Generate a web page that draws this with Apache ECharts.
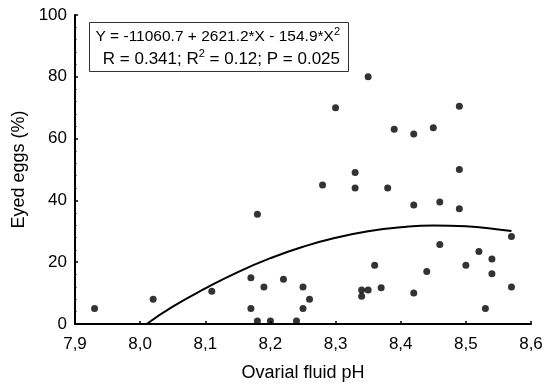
<!DOCTYPE html>
<html>
<head>
<meta charset="utf-8">
<script src="https://cdn.jsdelivr.net/npm/echarts@6/dist/echarts.min.js"></script>
<style>
html,body{margin:0;padding:0;background:#fff;}
#chart{width:548px;height:387px;}
</style>
</head>
<body>
<div id="chart"></div>
<script>
// Observed points: ovarial fluid pH vs eyed eggs (%)
const phValues = [7.93, 8.02, 8.11, 8.17, 8.17, 8.18, 8.18, 8.19, 8.20, 8.22,
  8.24, 8.25, 8.25, 8.26, 8.28, 8.30, 8.33, 8.33, 8.34, 8.34,
  8.35, 8.35, 8.36, 8.37, 8.38, 8.39, 8.42, 8.42, 8.42, 8.44,
  8.45, 8.46, 8.46, 8.49, 8.49, 8.49, 8.50, 8.52, 8.53, 8.54,
  8.54, 8.57, 8.57];
const eyedEggs = [5, 8, 10.6, 15, 5, 35.5, 1, 12, 1, 14.5,
  1, 12, 5, 8, 45, 70, 49, 44, 11, 9,
  11, 80, 19, 11.7, 44, 63, 61.5, 38.5, 10, 17,
  63.5, 39.5, 25.7, 70.5, 50, 37.3, 19, 23.5, 5, 21,
  16.3, 28.3, 12];

// Fitted curve
const curvePh   = [8.01, 8.05, 8.10, 8.15, 8.20, 8.25, 8.30, 8.35, 8.40, 8.45, 8.50, 8.55, 8.57];
const curveEggs = [0, 5.6, 11.5, 16.8, 21.3, 25.0, 27.9, 30.0, 31.3, 31.9, 31.6, 30.6, 30.1];

const xTickValues = [7.9, 8.0, 8.1, 8.2, 8.3, 8.4, 8.5, 8.6];
const xTickLabels = ['7,9', '8,0', '8,1', '8,2', '8,3', '8,4', '8,5', '8,6'];
const yTickLabels = ['0', '20', '40', '60', '80', '100'];

const scatterData = phValues.map((x, i) => [x, eyedEggs[i]]);
const curveData = curvePh.map((x, i) => [x, curveEggs[i]]);

const FONT = '"Liberation Sans", Arial, sans-serif';

const chart = echarts.init(document.getElementById('chart'), null, {renderer: 'canvas'});
chart.setOption({
  animation: false,
  backgroundColor: '#ffffff',
  grid: {left: 75, right: 17, top: 15, bottom: 63, containLabel: false},
  xAxis: {
    type: 'value', min: 7.9, max: 8.6, interval: 0.1,
    name: 'Ovarial fluid pH', nameLocation: 'middle', nameGap: 40,
    nameTextStyle: {color: '#000', fontSize: 18, fontFamily: FONT},
    axisLine: {show: true, lineStyle: {color: '#000', width: 2}},
    axisTick: {show: true, inside: true, length: 3, lineStyle: {color: '#000', width: 1.5}},
    axisLabel: {color: '#000', fontSize: 17, fontFamily: FONT, margin: 12,
      formatter: function (v) {
        for (let i = 0; i < xTickValues.length; i++) {
          if (Math.abs(v - xTickValues[i]) < 1e-6) return xTickLabels[i];
        }
        return '';
      }},
    splitLine: {show: false}
  },
  yAxis: {
    type: 'value', min: 0, max: 100, interval: 20,
    name: 'Eyed eggs (%)', nameLocation: 'middle', nameGap: 44,
    nameTextStyle: {color: '#000', fontSize: 18, fontFamily: FONT},
    axisLine: {show: true, lineStyle: {color: '#000', width: 2}},
    axisTick: {show: true, inside: true, length: 3, lineStyle: {color: '#000', width: 1.5}},
    minorTick: {show: true, splitNumber: 5, length: 1.5, lineStyle: {color: '#000', width: 1}},
    axisLabel: {color: '#000', fontSize: 17, fontFamily: FONT, margin: 8,
      formatter: function (v) { return yTickLabels[Math.round(v / 20)] || ''; }},
    splitLine: {show: false}
  },
  graphic: [{
    type: 'group',
    children: [{
      type: 'rect',
      shape: {x: 89.5, y: 22.5, width: 259, height: 49},
      style: {fill: '#fff', stroke: '#333', lineWidth: 1}
    }, {
      type: 'text',
      style: {
        x: 340, y: 26, align: 'right', verticalAlign: 'top',
        text: '{a|Y = -11060.7 + 2621.2*X - 154.9*X}{s|2}\n{n|R = 0.341; R}{s|2}{n| = 0.12; P = 0.025}',
        rich: {
          a: {fontSize: 15.5, fontFamily: FONT, fill: '#000', lineHeight: 22},
          n: {fontSize: 17, fontFamily: FONT, fill: '#000', lineHeight: 22},
          s: {fontSize: 11, fontFamily: FONT, fill: '#000', lineHeight: 12, verticalAlign: 'top'}
        }
      }
    }]
  }],
  series: [{
    type: 'line',
    data: curveData,
    smooth: true,
    showSymbol: false,
    lineStyle: {color: '#000', width: 2},
    z: 2
  }, {
    type: 'scatter',
    data: scatterData,
    symbol: 'circle',
    symbolSize: 7,
    itemStyle: {color: '#000'},
    z: 3
  }]
});
</script>
</body>
</html>
